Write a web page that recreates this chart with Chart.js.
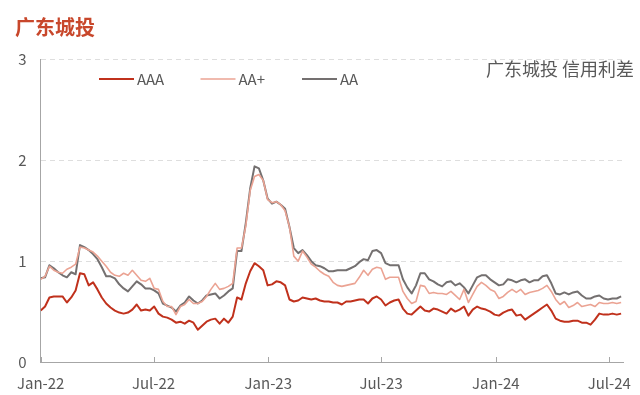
<!DOCTYPE html>
<html>
<head>
<meta charset="utf-8">
<script src="https://cdn.jsdelivr.net/npm/chart.js@4.4.1/dist/chart.umd.min.js"></script>
<style>
  html, body { margin: 0; padding: 0; background: #fff; }
</style>
</head>
<body>
<canvas id="myChart" width="640" height="395"></canvas>
<script>
// weekly spreads, first point = 2022-01-01
const seriesNames = ['AAA', 'AA+', 'AA'];

const aaa = [
  0.51,0.55,0.64,0.65,0.65,0.65,0.59,0.64,0.71,0.88,
  0.87,0.76,0.79,0.72,0.64,0.58,0.54,0.51,0.49,0.48,
  0.49,0.52,0.57,0.51,0.52,0.51,0.55,0.48,0.45,0.44,
  0.42,0.39,0.40,0.38,0.41,0.39,0.32,0.36,0.40,0.42,
  0.43,0.38,0.43,0.39,0.45,0.64,0.62,0.78,0.90,0.98,
  0.95,0.91,0.76,0.77,0.80,0.79,0.76,0.62,0.60,0.61,
  0.64,0.63,0.62,0.63,0.61,0.60,0.60,0.59,0.59,0.57,
  0.60,0.60,0.61,0.62,0.62,0.58,0.63,0.65,0.62,0.56,
  0.59,0.61,0.62,0.53,0.48,0.47,0.51,0.55,0.51,0.50,
  0.53,0.52,0.50,0.48,0.53,0.50,0.52,0.55,0.46,0.52,
  0.55,0.53,0.52,0.50,0.47,0.46,0.49,0.51,0.52,0.46,
  0.47,0.42,0.45,0.48,0.51,0.54,0.57,0.51,0.43,0.41,
  0.40,0.40,0.41,0.41,0.39,0.39,0.37,0.42,0.48,0.47,
  0.47,0.48,0.47,0.48
];

const aaPlus = [
  0.82,0.85,0.95,0.91,0.89,0.88,0.92,0.94,0.97,1.14,
  1.13,1.11,1.09,1.05,1.00,0.95,0.89,0.86,0.85,0.88,
  0.86,0.91,0.86,0.81,0.80,0.83,0.73,0.72,0.60,0.55,
  0.55,0.47,0.55,0.57,0.62,0.58,0.58,0.60,0.65,0.72,
  0.78,0.72,0.73,0.75,0.78,1.13,1.13,1.35,1.70,1.84,
  1.86,1.80,1.61,1.58,1.59,1.56,1.50,1.34,1.05,1.00,
  1.10,1.04,0.97,0.94,0.90,0.87,0.85,0.79,0.76,0.75,
  0.76,0.77,0.78,0.84,0.91,0.86,0.92,0.94,0.93,0.82,
  0.84,0.84,0.84,0.70,0.63,0.58,0.60,0.76,0.75,0.68,
  0.69,0.68,0.68,0.67,0.70,0.66,0.62,0.72,0.59,0.67,
  0.75,0.79,0.76,0.72,0.70,0.63,0.65,0.69,0.72,0.69,
  0.72,0.67,0.69,0.70,0.71,0.73,0.76,0.70,0.62,0.57,
  0.60,0.54,0.56,0.59,0.55,0.56,0.57,0.55,0.59,0.58,
  0.58,0.59,0.58,0.59
];

const aa = [
  0.83,0.84,0.96,0.93,0.89,0.86,0.84,0.89,0.87,1.16,
  1.14,1.11,1.07,1.02,0.94,0.85,0.85,0.83,0.77,0.73,
  0.70,0.75,0.80,0.77,0.73,0.73,0.71,0.68,0.58,0.56,
  0.54,0.50,0.56,0.59,0.65,0.61,0.58,0.61,0.66,0.67,
  0.68,0.63,0.66,0.70,0.73,1.10,1.10,1.38,1.72,1.94,
  1.92,1.80,1.62,1.57,1.59,1.56,1.52,1.34,1.13,1.08,
  1.11,1.06,1.00,0.96,0.95,0.93,0.90,0.90,0.91,0.91,
  0.91,0.93,0.95,0.99,1.02,1.01,1.10,1.11,1.08,0.98,
  0.96,0.96,0.96,0.82,0.74,0.68,0.76,0.88,0.88,0.82,
  0.80,0.77,0.75,0.79,0.80,0.76,0.78,0.74,0.68,0.76,
  0.84,0.86,0.86,0.82,0.79,0.76,0.77,0.82,0.81,0.79,
  0.81,0.82,0.79,0.81,0.81,0.85,0.86,0.78,0.68,0.67,
  0.69,0.67,0.69,0.70,0.66,0.63,0.63,0.65,0.66,0.63,
  0.62,0.63,0.63,0.65
];

// x axis in days since 2022-01-01
const tickDays = [0, 181, 365, 546, 730, 912];
const tickLabels = ['Jan-22', 'Jul-22', 'Jan-23', 'Jul-23', 'Jan-24', 'Jul-24'];
const yTicks = [0, 1, 2, 3];

const days = aaa.map((_, i) => i * 7);
const toPoints = arr => arr.map((v, i) => ({ x: days[i], y: v }));

const FONT = '"Noto Sans CJK SC", "Noto Sans", sans-serif';
const axisGray = '#a6a6a6';
const textGray = '#595959';

const decor = {
  id: 'decor',
  afterDraw(chart) {
    const { ctx, chartArea, scales } = chart;
    ctx.save();

    // inward tick marks on the x axis
    ctx.strokeStyle = axisGray;
    ctx.lineWidth = 1;
    tickDays.forEach(d => {
      const x = Math.round(scales.x.getPixelForValue(d)) + 0.5;
      ctx.beginPath();
      ctx.moveTo(x, chartArea.bottom);
      ctx.lineTo(x, chartArea.bottom - 5);
      ctx.stroke();
    });

    // title
    ctx.fillStyle = '#c8472b';
    ctx.font = 'bold 20px ' + FONT;
    ctx.textBaseline = 'middle';
    ctx.textAlign = 'left';
    ctx.fillText('广东城投', 15, 27);

    // subtitle in plot
    ctx.fillStyle = textGray;
    ctx.font = '18px ' + FONT;
    ctx.textAlign = 'right';
    ctx.fillText('广东城投 信用利差', 634, 69);

    // legend
    ctx.textAlign = 'left';
    ctx.font = '15px ' + FONT;
    chart.data.datasets.forEach((ds, i) => {
      const x0 = 99 + i * 101.5;
      ctx.strokeStyle = ds.borderColor;
      ctx.lineWidth = ds.borderWidth;
      ctx.beginPath();
      ctx.moveTo(x0, 79);
      ctx.lineTo(x0 + 35, 79);
      ctx.stroke();
      ctx.fillStyle = textGray;
      ctx.fillText(ds.label, x0 + 38, 79);
    });

    ctx.restore();
  }
};

new Chart(document.getElementById('myChart').getContext('2d'), {
  type: 'line',
  data: {
    datasets: [
      { label: seriesNames[0], data: toPoints(aaa), borderColor: '#c0311c', borderWidth: 2 },
      { label: seriesNames[1], data: toPoints(aaPlus), borderColor: '#eba393', borderWidth: 1.6 },
      { label: seriesNames[2], data: toPoints(aa), borderColor: '#747070', borderWidth: 2 }
    ]
  },
  options: {
    responsive: false,
    animation: false,
    devicePixelRatio: 1,
    layout: { padding: { top: 59.5, right: 17, left: 0, bottom: 0 } },
    elements: {
      point: { radius: 0 },
      line: { tension: 0, borderJoinStyle: 'round', fill: false }
    },
    plugins: {
      legend: { display: false },
      title: { display: false },
      tooltip: { enabled: false }
    },
    scales: {
      x: {
        type: 'linear',
        min: 0,
        max: 934,
        afterBuildTicks: s => { s.ticks = tickDays.map(v => ({ value: v })); },
        afterFit: s => { s.height = 33; },
        grid: { display: false },
        border: { color: axisGray, width: 1 },
        ticks: {
          autoSkip: false,
          maxRotation: 0,
          padding: 4,
          color: textGray,
          font: { family: FONT, size: 15 },
          callback: v => tickLabels[tickDays.indexOf(v)]
        }
      },
      y: {
        min: 0,
        max: 3,
        afterBuildTicks: s => { s.ticks = yTicks.map(v => ({ value: v })); },
        afterFit: s => { s.width = 40.7; },
        grid: {
          drawTicks: false,
          color: c => (c.tick && c.tick.value === 0 ? 'rgba(0,0,0,0)' : '#dedede')
        },
        border: { color: axisGray, width: 1, dash: [5, 4] },
        ticks: {
          padding: 14,
          color: textGray,
          font: { family: FONT, size: 15 }
        }
      }
    }
  },
  plugins: [decor]
});
</script>
</body>
</html>
